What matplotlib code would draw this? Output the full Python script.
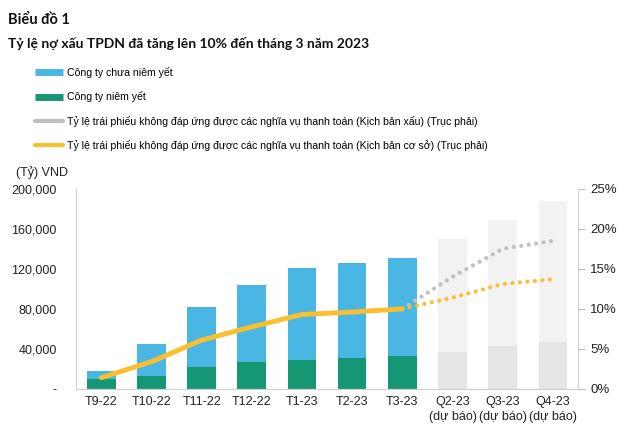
import numpy as np
import matplotlib.pyplot as plt
from matplotlib.lines import Line2D

plt.rcParams['font.family'] = ['Liberation Sans', 'DejaVu Sans']

categories = ['T9-22', 'T10-22', 'T11-22', 'T12-22', 'T1-23', 'T2-23', 'T3-23',
              'Q2-23\n(dự báo)', 'Q3-23\n(dự báo)', 'Q4-23\n(dự báo)']
# total outstanding bad bonds (ty VND) and the listed-company part
total = [18000, 45000, 82000, 104000, 121000, 126000, 131000, 150000, 169000, 188000]
listed = [10000, 13000, 22000, 27000, 28500, 31000, 33000, 37000, 43000, 47000]
n_actual = 7
# default ratio in %, right axis
base_actual = [1.4, 3.4, 6.1, 7.75, 9.3, 9.6, 10.0]
base_fc = [10.0, 11.4, 13.1, 13.7]
bad_fc = [10.0, 14.0, 17.5, 18.5]

blue = '#49B6E3'
green = '#159773'
yellow = '#FBBE2C'
grey = '#BFBFBF'

fig = plt.figure(figsize=(6.4, 4.36), dpi=100)
ax = fig.add_axes([0.119, 0.108, 0.784, 0.459])
ax2 = ax.twinx()

x = np.arange(len(categories))
unlisted = np.array(total) - np.array(listed)
bot_cols = [green] * n_actual + ['#E5E5E5'] * (len(x) - n_actual)
top_cols = [blue] * n_actual + ['#F2F2F2'] * (len(x) - n_actual)
ax.bar(x, listed, 0.57, color=bot_cols, zorder=2)
ax.bar(x, unlisted, 0.57, bottom=listed, color=top_cols, zorder=2)

ax.set_ylim(0, 200000)
ax.set_xlim(-0.5, len(x) - 0.5)
ax.set_yticks(range(0, 200001, 40000))
ax.set_yticklabels(['-'] + [f'{v:,}' for v in range(40000, 200001, 40000)])
ax.set_xticks(x)
ax.set_xticklabels(categories, linespacing=1.3)
ax.tick_params(axis='y', length=0, labelsize=9, pad=14, colors='#222222')
ax.tick_params(axis='x', length=0, labelsize=9, pad=5, colors='#222222')

fc_x = x[n_actual - 1:]
ax2.plot(fc_x, bad_fc, color=grey, lw=3, linestyle=(0, (0.01, 1.8)),
         dash_capstyle='round', zorder=3)
ax2.plot(fc_x, base_fc, color=yellow, lw=3, linestyle=(0, (0.01, 1.8)),
         dash_capstyle='round', zorder=4)
ax2.plot(x[:n_actual], base_actual, color=yellow, lw=3.5,
         solid_capstyle='round', solid_joinstyle='round', zorder=4)
ax2.set_ylim(0, 25)
ax2.set_yticks(range(0, 26, 5))
ax2.set_yticklabels([f'{v}%' for v in range(0, 26, 5)])
ax2.tick_params(axis='y', length=5, labelsize=9.5, pad=4, labelcolor='#222222',
                color='#BFBFBF')

for a in (ax, ax2):
    a.spines['top'].set_visible(False)
    for s in ('left', 'right', 'bottom'):
        a.spines[s].set_color('#D0D0D0')
ax2.spines['left'].set_visible(False)
ax.spines['right'].set_visible(False)

fig.text(16 / 640, 1 - 176 / 436, '(Tỷ) VND', fontsize=9, color='#222222')

fig.text(8 / 640, 1 - 24 / 436, 'Biểu đồ 1', fontsize=10.5, fontweight='bold',
         family=['Lato', 'DejaVu Sans'], color='#111111')
fig.text(8 / 640, 1 - 48 / 436,
         'Tỷ lệ nợ xấu TPDN đã tăng lên 10% đến tháng 3 năm 2023',
         fontsize=10, fontweight='bold', family=['Lato', 'DejaVu Sans'],
         color='#111111')

handles = [Line2D([], [], color=blue, lw=5, solid_capstyle='butt'),
           Line2D([], [], color=green, lw=5, solid_capstyle='butt'),
           Line2D([], [], color=grey, lw=3, solid_capstyle='round'),
           Line2D([], [], color=yellow, lw=3, solid_capstyle='round')]
labels = ['Công ty chưa niêm yết', 'Công ty niêm yết',
          'Tỷ lệ trái phiếu không đáp ứng được các nghĩa vụ thanh toán (Kịch bản xấu) (Trục phải)',
          'Tỷ lệ trái phiếu không đáp ứng được các nghĩa vụ thanh toán (Kịch bản cơ sở) (Trục phải)']
fig.legend(handles, labels, loc='upper left', bbox_to_anchor=(35 / 640, 1 - 67 / 436),
           frameon=False, fontsize=7.6, handlelength=2.65, handletextpad=0.38,
           labelspacing=1.26, borderaxespad=0, borderpad=0)

fig.savefig('out.png', dpi=100)
